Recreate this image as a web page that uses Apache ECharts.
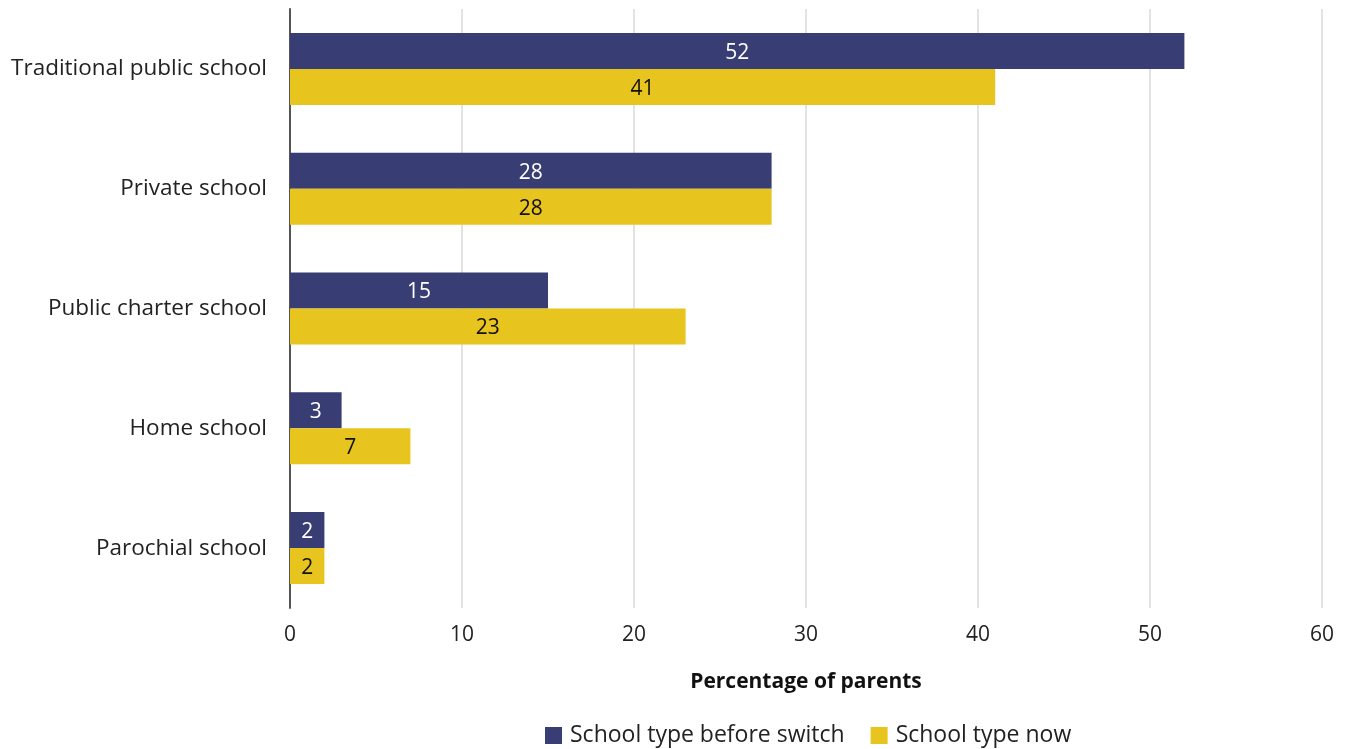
<!DOCTYPE html>
<html><head><meta charset="utf-8">
<script src="https://cdn.jsdelivr.net/npm/echarts@6/dist/echarts.min.js"></script>
<style>html,body{margin:0;padding:0;background:#fff}#c{width:1348px;height:749px}</style>
</head><body><div id="c"></div>
<script>
const categories = ["Traditional public school", "Private school", "Public charter school", "Home school", "Parochial school"];
const beforeSwitch = [52, 28, 15, 3, 2];
const now = [41, 28, 23, 7, 2];
const xTicks = [0, 10, 20, 30, 40, 50, 60];
const seriesNames = ["School type before switch", "School type now"];

const FONT = "'Open Sans', 'Noto Sans', sans-serif";
const chart = echarts.init(document.getElementById('c'), null, {renderer: 'canvas'});
chart.setOption({
  animation: false,
  textStyle: {fontFamily: FONT},
  grid: {left: 290, right: 26, top: 9, bottom: 141, containLabel: false},
  legend: {
    bottom: -3, left: 540, itemWidth: 17, itemHeight: 17, itemGap: 26,
    icon: 'rect',
    textStyle: {fontSize: 23, color: '#222', fontFamily: FONT, padding: [0, 0, 0, 3]},
    data: seriesNames
  },
  xAxis: {
    type: 'value', min: xTicks[0], max: xTicks[xTicks.length - 1], interval: 10,
    axisLine: {show: false}, axisTick: {show: false},
    splitLine: {show: true, lineStyle: {color: '#e2e2e2', width: 2}},
    axisLabel: {fontSize: 21, color: '#222', margin: 17, fontFamily: FONT},
    name: 'Percentage of parents', nameLocation: 'middle', nameGap: 64,
    nameTextStyle: {fontSize: 21, fontWeight: 'bold', color: '#111', fontFamily: FONT}
  },
  yAxis: {
    type: 'category', data: categories, inverse: true,
    axisLine: {show: true, lineStyle: {color: '#555', width: 2}},
    axisTick: {show: false},
    axisLabel: {fontSize: 22.5, color: '#222', margin: 23, fontFamily: FONT, padding: [7, 0, 0, 0]}
  },
  series: [
    {
      name: seriesNames[0], type: 'bar', data: beforeSwitch,
      barWidth: 36, barGap: '0%',
      itemStyle: {color: '#383d73'},
      label: {show: true, position: 'inside', color: '#fff', fontSize: 21, fontFamily: FONT, offset: [0, 2]}
    },
    {
      name: seriesNames[1], type: 'bar', data: now,
      barWidth: 36, barGap: '0%',
      itemStyle: {color: '#e8c41e'},
      label: {show: true, position: 'inside', color: '#111', fontSize: 21, fontFamily: FONT, offset: [0, 2]}
    }
  ]
});
</script></body></html>
